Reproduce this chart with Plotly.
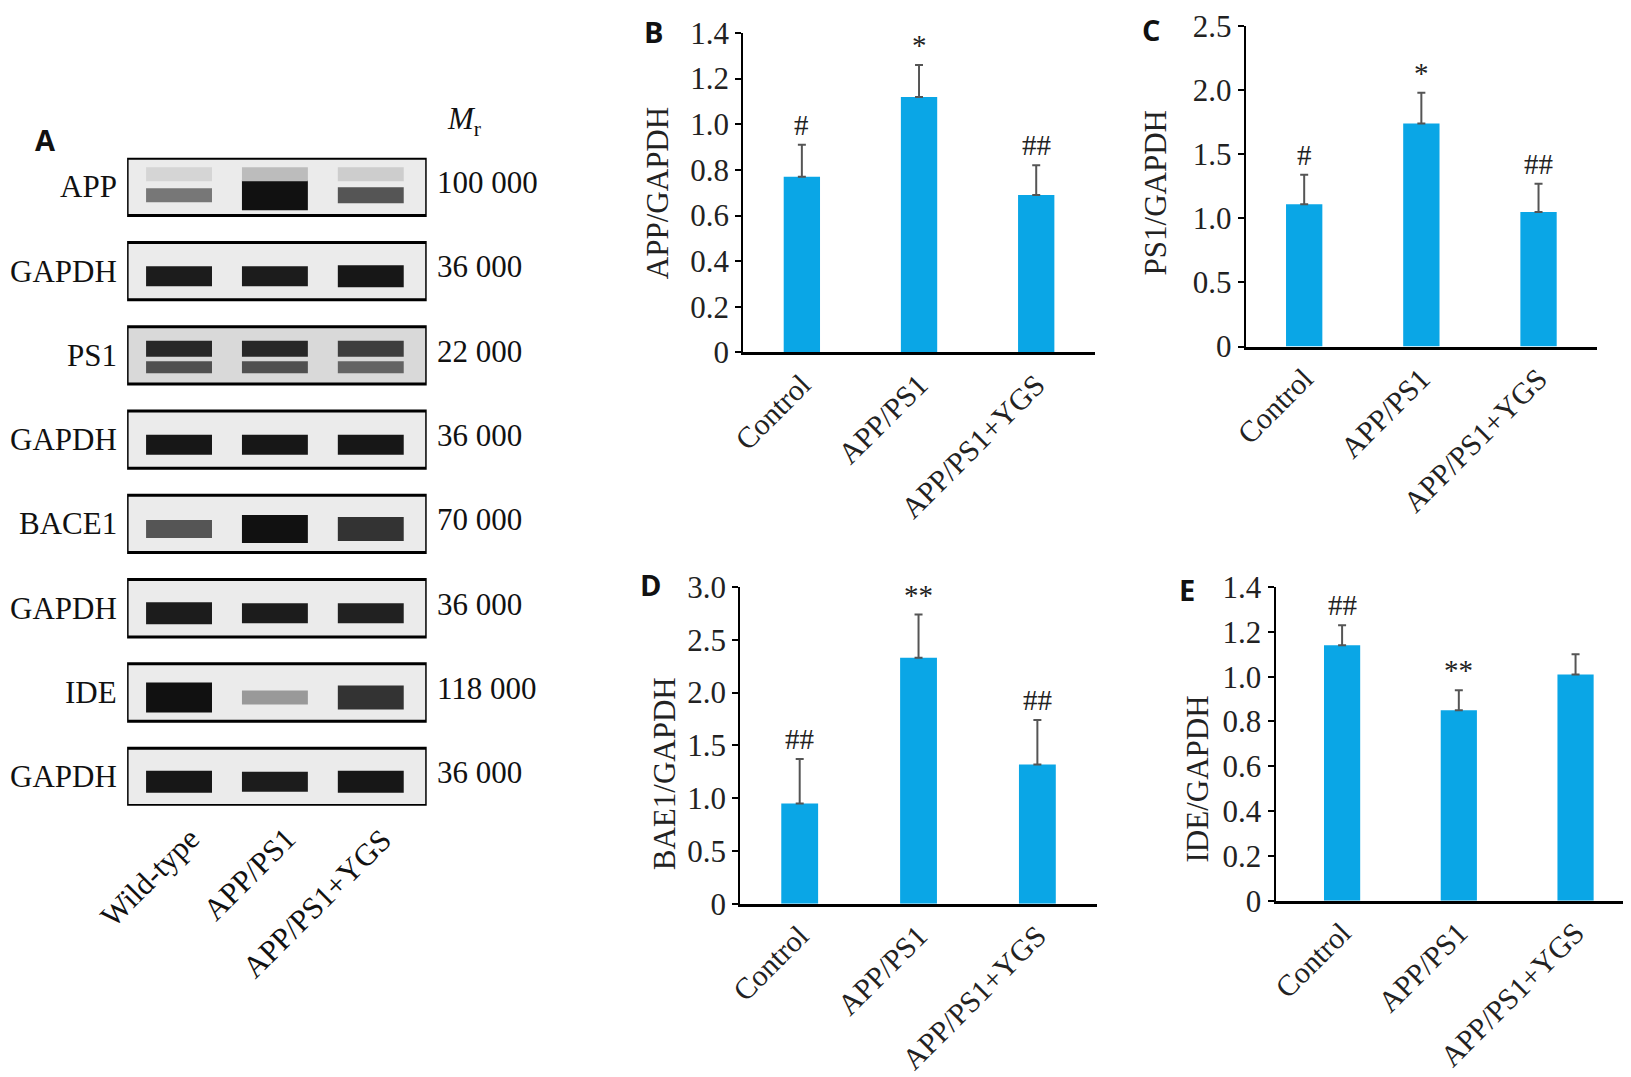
import plotly.graph_objects as go

W, H = 1631, 1077
SERIF = "Liberation Serif"
BLUE = "#0aa6e6"

groups = ["Control", "APP/PS1", "APP/PS1+YGS"]

app_mean = [0.77, 1.12, 0.69]
app_err = [0.14, 0.14, 0.13]
app_marks = ["#", "*", "##"]

ps1_mean = [1.11, 1.74, 1.05]
ps1_err = [0.23, 0.24, 0.22]
ps1_marks = ["#", "*", "##"]

bace_mean = [0.95, 2.33, 1.32]
bace_err = [0.42, 0.41, 0.42]
bace_marks = ["##", "**", "##"]

ide_mean = [1.14, 0.85, 1.01]
ide_err = [0.09, 0.09, 0.09]
ide_marks = ["##", "**", ""]

# western blot panel
blot_names = ["APP", "GAPDH", "PS1", "GAPDH", "BACE1", "GAPDH", "IDE", "GAPDH"]
blot_mr = ["100 000", "36 000", "22 000", "36 000", "70 000", "36 000", "118 000", "36 000"]
band_intensity = [
    [0.55, 1.0, 0.7],
    [0.95, 0.95, 0.97],
    [0.9, 0.9, 0.8],
    [0.97, 0.97, 0.97],
    [0.7, 1.0, 0.85],
    [0.95, 0.95, 0.93],
    [1.0, 0.4, 0.85],
    [0.97, 0.95, 0.97],
]
band_width = [
    [14, 30, 16],
    [20, 20, 22],
    [22, 22, 18],
    [20, 20, 20],
    [18, 28, 24],
    [22, 20, 20],
    [30, 14, 24],
    [22, 20, 22],
]
lanes = ["Wild-type", "APP/PS1", "APP/PS1+YGS"]


# reference pixel -> layout pixel
def fx(X):
    return 1.0073 * X - 19.9


def fy(Y):
    return 1.032 * Y - 25.8


def gray(v):
    g = int(245 * (1 - v * 0.93))
    return f"rgb({g},{g},{g})"


fig = go.Figure()

panels = [
    ("", app_mean, app_err, app_marks, [742, 1094], [33, 353], 1.4,
     [0, 0.2, 0.4, 0.6, 0.8, 1.0, 1.2, 1.4], "APP/GAPDH", 656, 193, "B", (652, 32), [-0.5, 2.5]),
    ("2", ps1_mean, ps1_err, ps1_marks, [1245, 1597], [26, 347], 2.5,
     [0, 0.5, 1.0, 1.5, 2.0, 2.5], "PS1/GAPDH", 1155, 193, "C", (1150, 30), [-0.5, 2.5]),
    ("3", bace_mean, bace_err, bace_marks, [739, 1096], [588, 905], 3.0,
     [0, 0.5, 1.0, 1.5, 2.0, 2.5, 3.0], "BAE1/GAPDH", 663, 775, "D", (649, 585), [-0.5, 2.5]),
    ("4", ide_mean, ide_err, ide_marks, [1275, 1628], [588, 902], 1.4,
     [0, 0.2, 0.4, 0.6, 0.8, 1.0, 1.2, 1.4], "IDE/GAPDH", 1197, 780, "E", (1186, 590), [-0.57, 2.45]),
]

layout = {}
annotations = []
for sfx, mean, err, marks, xd, yd, ymax, ticks, title, tx, ty, letter, lxy, xr in panels:
    fig.add_trace(go.Bar(
        x=groups, y=mean, xaxis="x" + sfx, yaxis="y" + sfx,
        marker=dict(color=BLUE, line=dict(width=0)), width=0.31,
        error_y=dict(type="data", array=err, arrayminus=[0] * 3, symmetric=False,
                     color="#555555", thickness=2, width=4),
        showlegend=False,
    ))
    ticktext = ["0" if t == 0 else f"{t:.1f}" for t in ticks]
    layout["xaxis" + sfx] = dict(
        domain=[fx(xd[0]) / W, min(fx(xd[1]) / W, 1)], anchor="y" + sfx, range=xr,
        showline=True, linecolor="black", linewidth=2.5, ticks="", tickangle=-45,
        tickfont=dict(family=SERIF, size=30, color="#222"), showgrid=False, zeroline=False,
    )
    layout["yaxis" + sfx] = dict(
        domain=[1 - fy(yd[1]) / H, 1 - fy(yd[0]) / H], anchor="x" + sfx, range=[0, ymax],
        showline=True, linecolor="black", linewidth=2, ticks="outside", ticklen=6,
        tickwidth=2, tickcolor="black", tickvals=ticks, ticktext=ticktext,
        tickfont=dict(family=SERIF, size=31, color="#222"), showgrid=False, zeroline=False,
    )
    for g, m, e, mk in zip(groups, mean, err, marks):
        if mk:
            annotations.append(dict(
                x=g, y=m + e, xref="x" + sfx, yref="y" + sfx, text=mk, showarrow=False,
                yanchor="bottom", yshift=2, font=dict(family=SERIF, size=29, color="#222")))
    annotations.append(dict(
        x=fx(tx) / W, y=1 - fy(ty) / H, xref="paper", yref="paper", text=title, textangle=-90,
        xanchor="center", yanchor="middle",
        showarrow=False, font=dict(family=SERIF, size=31, color="#222")))
    annotations.append(dict(
        x=fx(lxy[0]) / W, y=1 - fy(lxy[1]) / H, xref="paper", yref="paper",
        text="<b>" + letter + "</b>", showarrow=False, xanchor="center", yanchor="middle",
        font=dict(family="Open Sans", size=29, color="#111")))

# blot panel axes (rows are blots, x in lane units)
BX0, BX1, BY0, BY1 = fx(125), fx(425), fy(158), fy(807)
ROW = (BY1 - BY0) / 7.688
LANE = (BX1 - BX0) / 3
lane_x = [0.52, 1.48, 2.44]
layout["xaxis5"] = dict(domain=[BX0 / W, BX1 / W], anchor="y5", range=[0, 3], visible=False)
layout["yaxis5"] = dict(domain=[1 - BY1 / H, 1 - BY0 / H], anchor="x5",
                        range=[7.344, -0.344], visible=False)


def px(u):
    return (BX0 + u * LANE) / W


def py(r):
    return 1 - (BY0 + (r + 0.344) * ROW) / H


shapes = []
for i, name in enumerate(blot_names):
    bg = "#d9d9d9" if name == "PS1" else "#ebebeb"
    shapes.append(dict(type="rect", xref="x5", yref="y5", x0=0, x1=3, y0=i - 0.34, y1=i + 0.34,
                       fillcolor=bg, line=dict(color="black", width=3), layer="below"))
    for j, lx in enumerate(lane_x):
        rows = [(i + 0.06, band_intensity[i][j], band_width[i][j])]
        if name == "PS1":
            rows = [(i - 0.08, band_intensity[i][j], 16), (i + 0.14, band_intensity[i][j] * 0.8, 12)]
        if name == "APP":
            rows = [(i + 0.1, band_intensity[i][j], band_width[i][j]),
                    (i - 0.15, band_intensity[i][j] * 0.25, 14)]
        for yy, inten, bw in rows:
            fig.add_trace(go.Scatter(
                x=[lx - 0.33, lx + 0.33], y=[yy, yy], xaxis="x5", yaxis="y5", mode="lines",
                line=dict(color=gray(inten), width=bw), showlegend=False, hoverinfo="skip"))
    annotations.append(dict(x=px(-0.08), y=py(i), xref="paper", yref="paper", text=name,
                            showarrow=False, xanchor="right", yanchor="middle",
                            font=dict(family=SERIF, size=31, color="#111")))
    annotations.append(dict(x=px(3.08), y=py(i) + 0.004, xref="paper", yref="paper", text=blot_mr[i],
                            showarrow=False, xanchor="left", yanchor="middle",
                            font=dict(family=SERIF, size=31, color="#111")))

annotations.append(dict(x=px(3.18), y=py(-0.78), xref="paper", yref="paper",
                        text="<i>M</i><sub>r</sub>", showarrow=False, xanchor="left", yanchor="middle",
                        font=dict(family=SERIF, size=31, color="#111")))
annotations.append(dict(x=fx(31) / W, y=1 - fy(118) / H, xref="paper", yref="paper", text="<b>A</b>",
                        showarrow=False, font=dict(family="Open Sans", size=29, color="#111")))
for lx, lab in zip(lane_x, lanes):
    annotations.append(dict(x=px(lx + 0.3), y=py(7.5), xref="paper", yref="paper", text=lab,
                            textangle=-45, showarrow=False, xanchor="right", yanchor="top",
                            font=dict(family=SERIF, size=31, color="#111")))

fig.update_layout(
    width=W, height=H, margin=dict(l=0, r=0, t=0, b=0),
    paper_bgcolor="white", plot_bgcolor="white",
    annotations=annotations, shapes=shapes, **layout,
)

fig.write_html("out.html")
